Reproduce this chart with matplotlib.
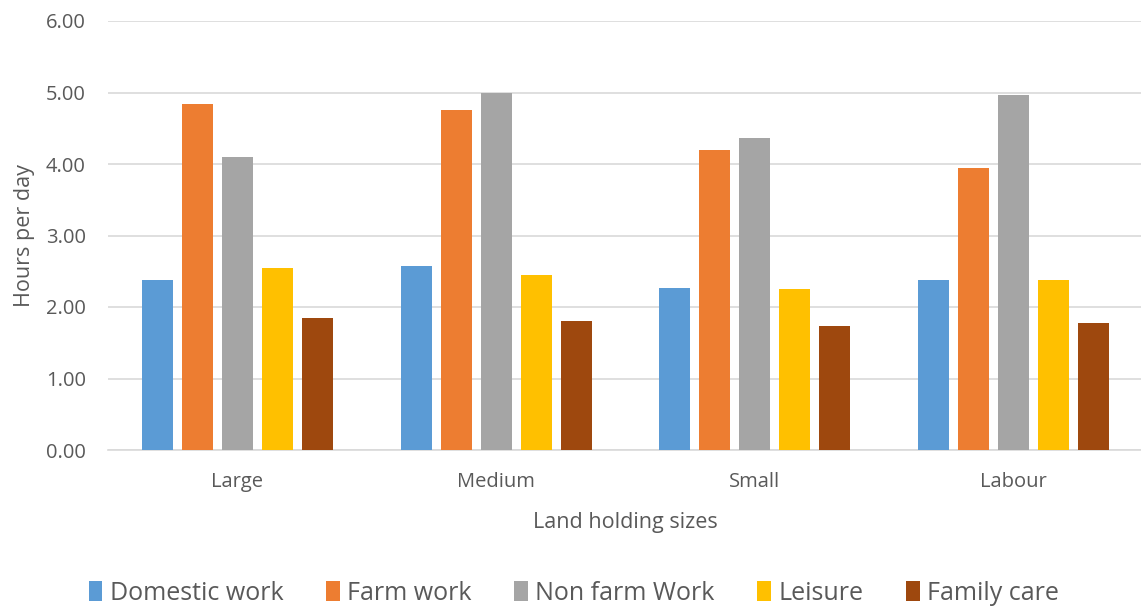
import numpy as np
import matplotlib
matplotlib.use("Agg")
import matplotlib.pyplot as plt

categories = ["Large", "Medium", "Small", "Labour"]
series_names = ["Domestic work", "Farm work", "Non farm Work", "Leisure", "Family care"]
domestic = [2.38, 2.57, 2.27, 2.38]
farm = [4.84, 4.75, 4.20, 3.94]
non_farm = [4.10, 4.99, 4.36, 4.97]
leisure = [2.54, 2.45, 2.25, 2.38]
family = [1.85, 1.80, 1.73, 1.77]
colors = ["#5B9BD5", "#ED7D31", "#A5A5A5", "#FFC000", "#9E480E"]

plt.rcParams["font.family"] = ["Open Sans", "DejaVu Sans"]

W, H = 1141, 610
fig = plt.figure(figsize=(W / 100, H / 100), dpi=100)
ax = fig.add_axes([108 / W, 1 - 450 / H, (1143 - 108) / W, (450 - 21) / H])

x = np.arange(len(categories))
pitch = 40 / 259
width = 31 / 259
for i, (vals, name) in enumerate(zip([domestic, farm, non_farm, leisure, family], series_names)):
    ax.bar(x + (i - 2) * pitch, vals, width, color=colors[i], label=name, zorder=3)

ax.set_xlim(-0.5, len(categories) - 0.5)
ax.set_ylim(0, 6)
ax.set_yticks(np.arange(0, 7, 1))
ax.set_yticklabels([f"{v:.2f}" for v in np.arange(0, 7, 1)])
ax.set_xticks(x)
ax.set_xticklabels(categories)
ax.grid(axis="y", color="#d9d9d9", linewidth=1.2, zorder=0)
for s in ["top", "right", "left"]:
    ax.spines[s].set_visible(False)
ax.spines["bottom"].set_color("#d9d9d9")
ax.spines["bottom"].set_linewidth(1.2)
ax.tick_params(axis="both", length=0, labelsize=14.5, labelcolor="#595959")
ax.tick_params(axis="x", pad=16)
ax.tick_params(axis="y", pad=16)

ax.set_xlabel("Land holding sizes", fontsize=15.5, color="#595959", labelpad=14)
ax.set_ylabel("Hours per day", fontsize=15.5, color="#595959", labelpad=8)

fig.legend(loc="center", bbox_to_anchor=(0.503, 1 - 593 / H), ncol=5, frameon=False,
           fontsize=18, labelcolor="#595959", handlelength=0.55, handleheight=0.9,
           handletextpad=0.3, columnspacing=1.7)

fig.savefig("out.png", dpi=100)
